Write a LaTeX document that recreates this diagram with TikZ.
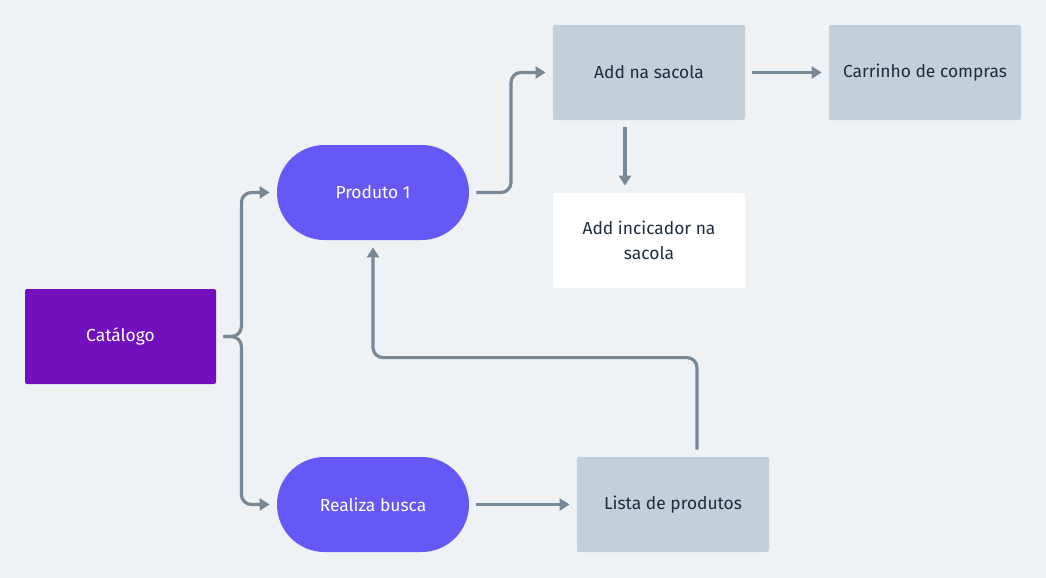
\documentclass[tikz,border=0pt]{standalone}
\usepackage{fontspec}
\setmainfont{Fira Sans}
\usetikzlibrary{arrows.meta,calc}
\definecolor{bgc}{HTML}{EFF2F5}
\definecolor{roxo}{HTML}{7210BE}
\definecolor{azul}{HTML}{6558F5}
\definecolor{cinza}{HTML}{C3CFD9}
\definecolor{linha}{HTML}{788896}
\definecolor{texto}{HTML}{1F2D3D}
\begin{document}
\begin{tikzpicture}[x=0.5pt,y=-0.5pt,
    every node/.style={font=\fontsize{8.7}{12.5}\selectfont, align=center, minimum width=96pt, minimum height=47.5pt, inner sep=0pt},
    caixa/.style={fill=cinza, text=texto, rounded corners=1pt},
    pilula/.style={fill=azul, text=white, rounded corners=23.75pt},
    link/.style={draw=linha, line width=1.6pt, rounded corners=5pt, shorten <=3.5pt, shorten >=3.5pt, -{Triangle[length=5pt,width=6pt]}}]
        \fill [bgc] (0,0) rectangle (1046,578);
        \node [fill=roxo, text=white, rounded corners=1pt, minimum width=95.5pt] (catalogo) at (120.5,336.5) {Catálogo};
        \node [pilula] (produto) at (373,192.5) {Produto 1};
        \node [pilula] (busca) at (373,504.5) {Realiza busca};
        \node [caixa] (sacola) at (649,72.5) {Add na sacola};
        \node [caixa] (carrinho) at (925,72.5) {Carrinho de compras};
        \node [fill=white, text=texto, rounded corners=1pt] (indicador) at (649,240.5) {Add incicador na\\sacola};
        \node [caixa] (lista) at (673,504.5) {Lista de produtos};
        \draw [link] (catalogo.east) -- ($(catalogo.east)+(25,0)$) |- (produto.west);
        \draw [link] (catalogo.east) -- ($(catalogo.east)+(25,0)$) |- (busca.west);
        \draw [link] (produto.east) -| ($(produto.east)!.5!(sacola.west)$) |- (sacola.west);
        \draw [link, rounded corners=0pt] (sacola.east) -- (carrinho.west);
        \draw [link] ([xshift=-12pt]sacola.south) -- ([xshift=-12pt]indicador.north);
        \draw [link] (busca.east) -- (lista.west);
        \draw [link] ([xshift=12pt]lista.north) -- ++(0,-99) -| (produto.south);
      \end{tikzpicture}
\end{document}
